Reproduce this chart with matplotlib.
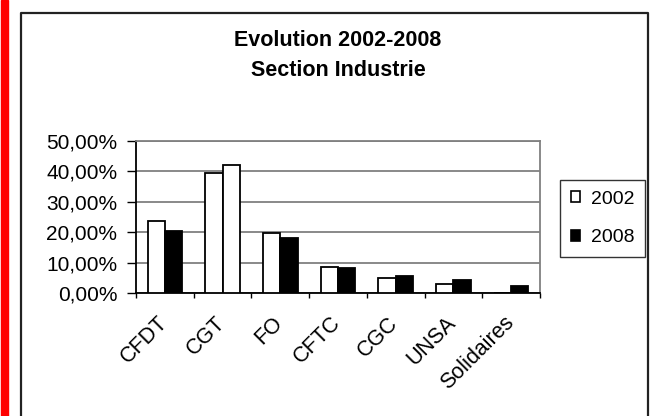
import numpy as np
import matplotlib.pyplot as plt
import matplotlib.transforms as mtransforms
from matplotlib.patches import Rectangle
from matplotlib.lines import Line2D

plt.rcParams['font.family'] = ['Liberation Sans', 'DejaVu Sans']

# Data (shares of votes)
unions = ["CFDT", "CGT", "FO", "CFTC", "CGC", "UNSA", "Solidaires"]
vals_2002 = [0.237, 0.395, 0.199, 0.087, 0.048, 0.028, 0.0]
vals_2008 = [0.205, 0.420, 0.180, 0.081, 0.055, 0.042, 0.022]
years = ["2002", "2008"]
ticks_y = [0.0, 0.1, 0.2, 0.3, 0.4, 0.5]

# the CGT 2008 bar is drawn white in the original
fill_2008 = ['black', 'white', 'black', 'black', 'black', 'black', 'black']

fig = plt.figure(figsize=(6.54, 4.16), dpi=100)
ax = fig.add_axes([136/654, (416-293)/416, (540-136)/654, (293-141)/416])

x = np.arange(len(unions))
w = 0.3
ax.bar(x - w/2, vals_2002, w, color='white', edgecolor='black', linewidth=1.3, zorder=3)
ax.bar(x + w/2, vals_2008, w, color=fill_2008, edgecolor='black', linewidth=1.3, zorder=3)

ax.set_xlim(-0.5, len(unions) - 0.5)
ax.set_ylim(0, 0.5)
ax.set_yticks(ticks_y)
ax.set_yticklabels([f"{v*100:.2f}%".replace('.', ',') for v in ticks_y], fontsize=15)
ax.tick_params(axis='y', direction='out', length=6.5, width=1, pad=7)
ax.yaxis.grid(True, color='#808080', linewidth=1.3, zorder=0)

# category boundaries get the tick marks, labels sit in between
ax.set_xticks(np.arange(-0.5, len(unions)), minor=False)
ax.set_xticklabels([])
ax.tick_params(axis='x', which='major', direction='out', length=3.6, width=1)
ax.set_xticks(x, minor=True)
ax.set_xticklabels(unions, minor=True, rotation=45, ha='right', va='top',
                   rotation_mode='anchor', fontsize=15.5)
ax.tick_params(axis='x', which='minor', length=0, pad=14)
shift = mtransforms.ScaledTranslation(-8/100, 0, fig.dpi_scale_trans)
for lab in ax.get_xticklabels(minor=True):
    lab.set_transform(lab.get_transform() + shift)

ax.spines['left'].set_color('black')
ax.spines['bottom'].set_color('black')
ax.spines['top'].set_color('#808080')
ax.spines['right'].set_color('#808080')
for s in ax.spines.values():
    s.set_linewidth(1.3)

fig.text(338/654, 1 - 41/416, "Evolution 2002-2008", ha='center', va='center',
         fontsize=15.5, fontweight='bold')
fig.text(338/654, 1 - 71/416, "Section Industrie", ha='center', va='center',
         fontsize=15.5, fontweight='bold')

handles = [Rectangle((0, 0), 1, 1, facecolor='white', edgecolor='black', linewidth=1.2),
           Rectangle((0, 0), 1, 1, facecolor='black', edgecolor='black', linewidth=1.2)]
leg = fig.legend(handles, years, loc='upper left', bbox_to_anchor=(560/654, 1 - 180/416),
                 fontsize=14, frameon=True, fancybox=False, handlelength=0.5,
                 handleheight=0.5, handletextpad=0.55, borderpad=0.55, labelspacing=1.1,
                 borderaxespad=0)
leg.get_frame().set_edgecolor('black')
leg.get_frame().set_linewidth(1)

# red strip on the left and the chart frame
fig.patches.append(Rectangle((1/654, 0), 7/654, 1, transform=fig.transFigure,
                             color='red', zorder=5))
fig.lines.append(Line2D([21/654, 21/654, 648/654, 648/654], [0, 1 - 13/416, 1 - 13/416, 0],
                        transform=fig.transFigure, color='#222222', linewidth=1.6))

fig.savefig("out.png", dpi=100)
